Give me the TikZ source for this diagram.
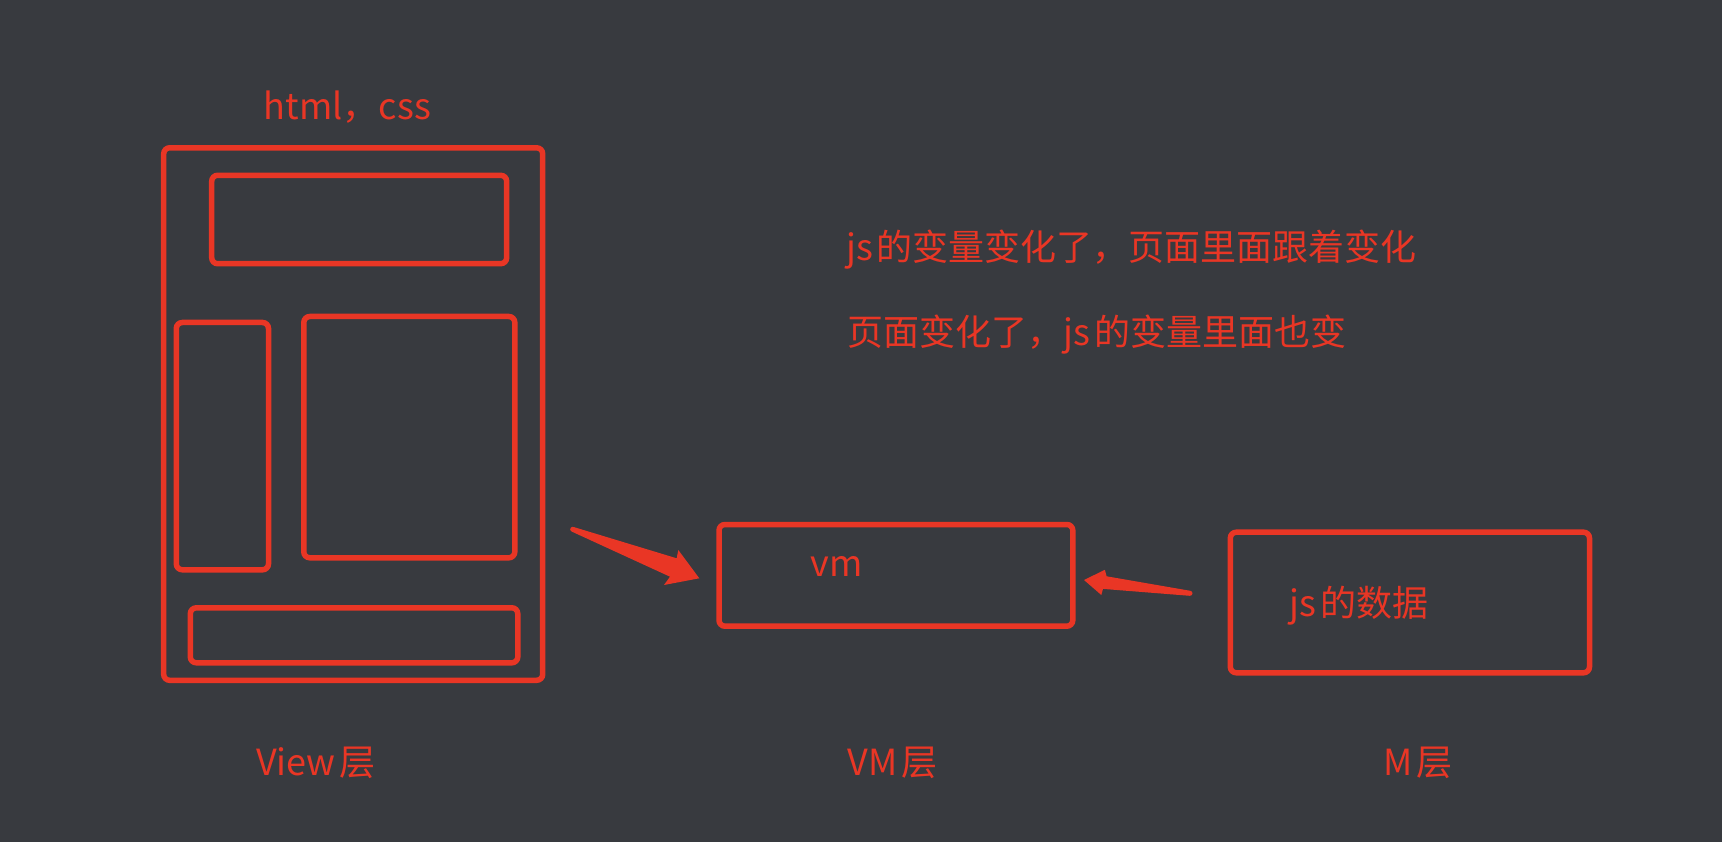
\documentclass[tikz,border=0pt]{standalone}
\usepackage{fontspec}
\setmainfont{Noto Sans CJK SC}
\definecolor{bgc}{RGB}{56,58,63}
\definecolor{redc}{RGB}{233,54,37}
\newcommand{\gp}{\hspace{4pt}}
\begin{document}
\begin{tikzpicture}[x=1pt,y=-1pt,
  box/.style={draw=redc, line width=5.5pt, rounded corners=6pt, inner sep=0pt, outer sep=0pt},
  lbl/.style={text=redc, inner sep=0pt, anchor=base, font=\fontsize{36}{43}\selectfont}]
\fill[bgc] (0,0) rectangle (1722,842);
\useasboundingbox (0,0) rectangle (1722,842);
% view layer boxes
\node[box, minimum width=379pt, minimum height=532.5pt] (view) at (353.2,414.05) {};
\node[box, minimum width=295pt, minimum height=88.4pt] (vtop) at (359.2,219.5) {};
\node[box, minimum width=92.2pt, minimum height=247.3pt] (vleft) at (222.4,446.15) {};
\node[box, minimum width=211pt, minimum height=241.3pt] (vright) at (409.3,437.15) {};
\node[box, minimum width=327.5pt, minimum height=55pt] (vbottom) at (354.05,635.3) {};
% VM and M boxes
\node[box, minimum width=353.8pt, minimum height=101.7pt] (vmbox) at (895.9,575.35) {};
\node[box, minimum width=359.2pt, minimum height=140.6pt] (mbox) at (1409.9,602.5) {};
% texts
\node[lbl] (htmlcss) at (347.5,120) {html，css};
\node[lbl] (line1) at (1131.5,261) {js\gp 的变量变化了，页面里面跟着变化};
\node[lbl] (line2) at (1097,345) {页面变化了，js\gp 的变量里面也变};
\node[lbl] (vmtxt) at (836.7,576.7) {vm};
\node[lbl] (mtxt) at (1358.8,616) {js\gp 的数据};
\node[lbl] (viewl) at (315.9,775.7) {View\gp 层};
\node[lbl] (vml) at (892.5,775.7) {VM\gp 层};
\node[lbl] (ml) at (1417.9,775.7) {M\gp 层};
% arrow 1: view -> vm
\coordinate (a1tail) at (572.7,529.3);
\coordinate (a1tip) at (699.3,578.3);
\fill[redc] (573.6,527.0) -- (676.7,558.3) -- (678.3,550) -- (a1tip) -- (664,585) -- (670,576.7) -- (571.8,531.6) -- cycle;
\fill[redc] (a1tail) circle (2.5pt);
% arrow 2: m -> vm
\coordinate (a2tail) at (1190,593.3);
\coordinate (a2tip) at (1084,580);
\fill[redc] (1190.3,590.8) -- (1106.6,576.3) -- (1104.9,569.8) -- (a2tip) -- (1101.3,595.0) -- (1103.0,588.9) -- (1189.7,595.8) -- cycle;
\fill[redc] (a2tail) circle (2.5pt);
\end{tikzpicture}
\end{document}
